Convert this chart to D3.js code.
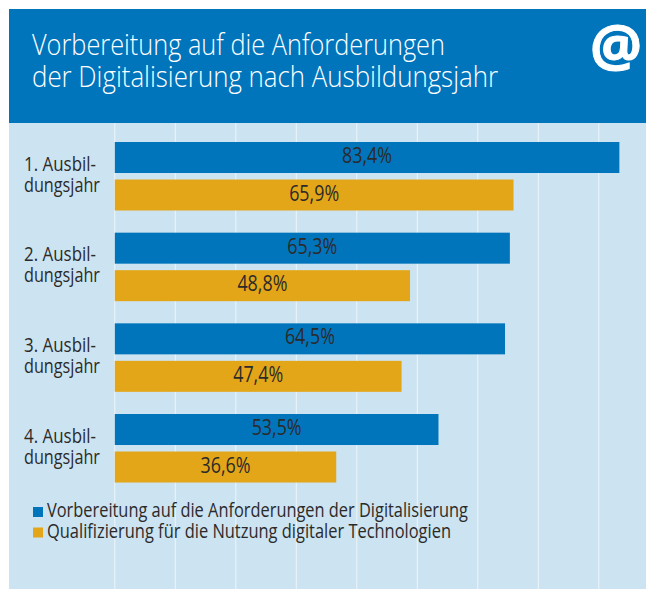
<!DOCTYPE html>
<html><head><meta charset="utf-8">
<script src="https://cdn.jsdelivr.net/npm/d3@7/dist/d3.min.js"></script>
<style>html,body{margin:0;padding:0;background:#fff}svg{display:block}text{font-family:"Open Sans",sans-serif}</style>
</head><body><div id="c"></div>
<script>
const categories=["1. Ausbil-|dungsjahr","2. Ausbil-|dungsjahr","3. Ausbil-|dungsjahr","4. Ausbil-|dungsjahr"];
const seriesNames=["Vorbereitung auf die Anforderungen der Digitalisierung","Qualifizierung für die Nutzung digitaler Technologien"];
const seriesA=[83.4,65.3,64.5,53.5];
const seriesB=[65.9,48.8,47.4,36.6];
const colors=["#0075bc","#e3a619"];
const titleLines=["Vorbereitung auf die Anforderungen","der Digitalisierung nach Ausbildungsjahr"];
const gridTicks=[0,10,20,30,40,50,60,70,80];
const W=646,H=589;
const svg=d3.select("#c").append("svg").attr("width",W).attr("height",H);
const x=d3.scaleLinear().domain([0,10]).range([114.8,175.3]);
const y=d3.scaleBand().domain(categories).range([142,142+90.67*4]);
const inner=d3.scaleOrdinal().domain([0,1]).range([0,37.5]);
// one text element with one tspan per line, each line fitted to its measured width
function lines(parent,rows,xPos,yPos,widths){
  const t=parent.append("text");
  rows.forEach((r,i)=>t.append("tspan").text(r).attr("x",xPos).attr("y",yPos(i))
    .attr("textLength",widths[i]).attr("lengthAdjust","spacingAndGlyphs"));
  return t;
}
svg.append("rect").attr("x",9).attr("y",123).attr("width",W-9).attr("height",H-123).attr("fill","#cce3f1");
svg.append("rect").attr("x",9).attr("y",9).attr("width",W-9).attr("height",114).attr("fill","#0075bc");
svg.selectAll("line.g").data(gridTicks).join("line").attr("class","g")
  .attr("x1",d=>x(d)).attr("x2",d=>x(d)).attr("y1",123).attr("y2",H)
  .attr("stroke","#eef5fa").attr("stroke-width",1);
lines(svg,titleLines,32,i=>55+i*32,[413,466]).attr("fill","#fff").attr("font-size",29).attr("font-weight",300);
svg.append("text").text("@").attr("x",616).attr("y",66).attr("text-anchor","middle")
  .attr("fill","#fff").attr("font-size",58).attr("font-weight",700).attr("stroke","#fff").attr("stroke-width",1);
[seriesA,seriesB].forEach((vals,s)=>{
  const g=svg.append("g");
  g.selectAll("rect").data(vals).join("rect")
    .attr("x",x(0)).attr("y",(d,i)=>y(categories[i])+inner(s))
    .attr("width",d=>x(d)-x(0)).attr("height",31).attr("fill",colors[s]);
  g.selectAll("text").data(vals).join("text")
    .text(d=>d.toFixed(1).replace(".",",")+"%")
    .attr("x",d=>(x(d)+x(0))/2).attr("y",(d,i)=>y(categories[i])+inner(s)+21)
    .attr("text-anchor","middle").attr("fill","#2b2a29").attr("font-size",21)
    .attr("textLength",50).attr("lengthAdjust","spacingAndGlyphs");
});
categories.forEach(c=>{
  lines(svg,c.split("|"),24,i=>y(c)+28.5+i*21,[72,76]).attr("fill","#2b2a29").attr("font-size",19.5);
});
seriesNames.forEach((n,i)=>{
  svg.append("rect").attr("x",33).attr("y",507+i*20.5).attr("width",10).attr("height",10).attr("fill",colors[i]);
});
lines(svg,seriesNames,47,i=>517+i*20.5,[421,404]).attr("fill","#2b2a29").attr("font-size",19.5);
</script></body></html>
